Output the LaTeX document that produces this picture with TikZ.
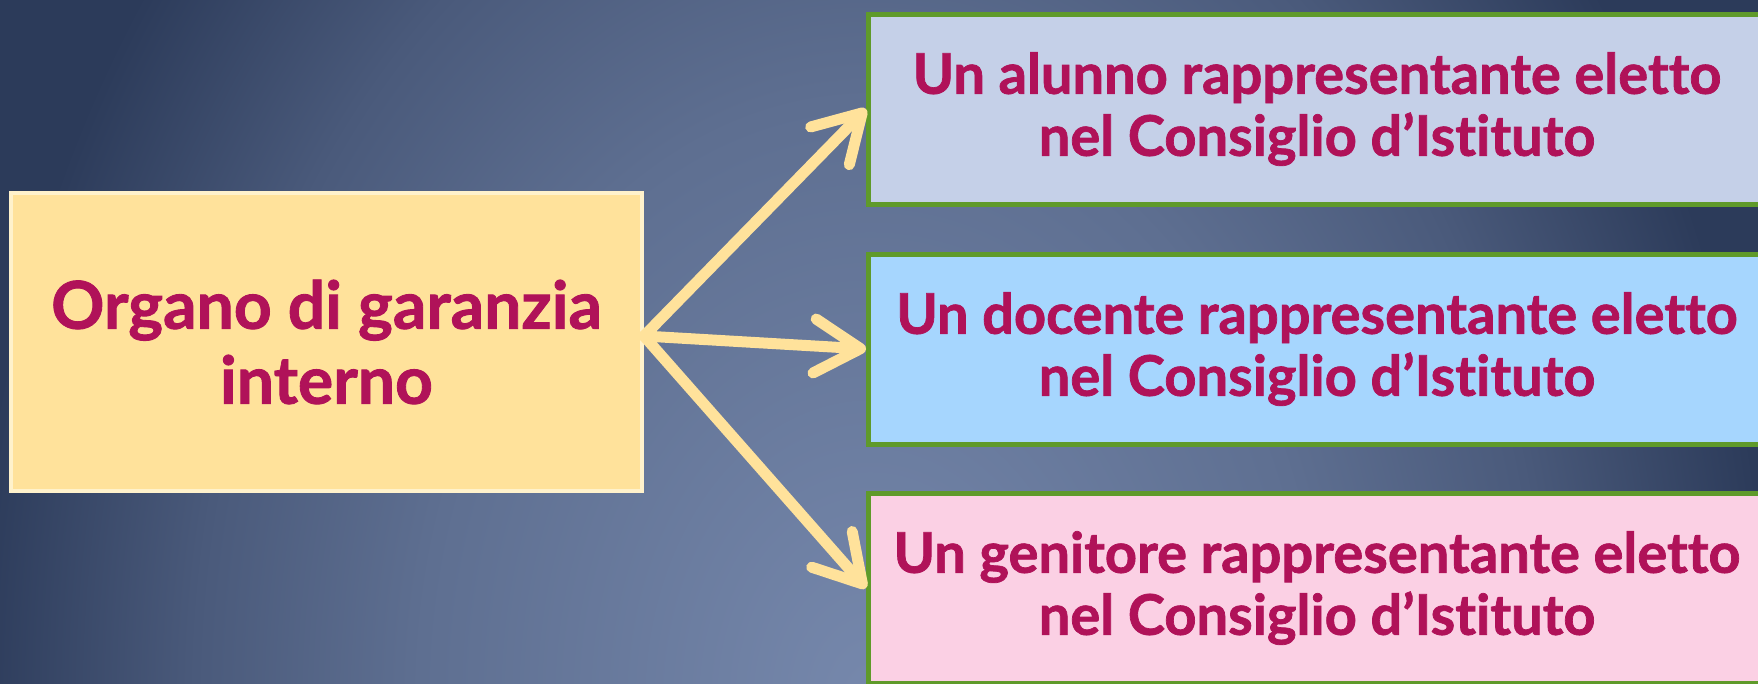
\documentclass[tikz,border=0pt]{standalone}
\usepackage{fontspec}
\setmainfont{Lato}[Ligatures=NoCommon, BoldFeatures={FakeBold=1.3}]
\usetikzlibrary{arrows.meta}
\definecolor{bgL}{RGB}{118,136,172}
\definecolor{bgMa}{RGB}{94,111,145}
\definecolor{bgMb}{RGB}{74,90,123}
\definecolor{bgD}{RGB}{44,59,90}
\definecolor{txt}{RGB}{176,18,89}
\definecolor{cream}{RGB}{255,226,155}
\definecolor{creamedge}{RGB}{255,242,204}
\definecolor{grn}{RGB}{95,154,42}
\definecolor{fillA}{RGB}{197,208,232}
\definecolor{fillB}{RGB}{166,214,254}
\definecolor{fillC}{RGB}{251,208,228}
\pgfdeclareradialshading{bgshade}{\pgfpoint{0bp}{0bp}}{color(0bp)=(bgL); color(12.5bp)=(bgMa); color(18.75bp)=(bgMb); color(25bp)=(bgD); color(50bp)=(bgD)}
\tikzset{
  mainbox/.style={draw=creamedge, line width=4pt, fill=cream, minimum width=631pt, minimum height=298pt, inner sep=0pt, align=center, text=txt, font=\bfseries\fontsize{66}{75}\selectfont},
  rbox/.style={draw=grn, line width=5pt, minimum width=897pt, minimum height=190pt, inner sep=0pt, align=center, text=txt, font=\bfseries\fontsize{56}{62}\selectfont},
  arr/.style={draw=cream, line width=11pt, line cap=round, -{Straight Barb[length=46pt,width=54pt,round]}}
}
\begin{document}
\begin{tikzpicture}[x=1pt,y=-1pt]
\useasboundingbox (0,0) rectangle (1758,683);
\clip (0,0) rectangle (1758,683);
\fill[bgD] (0,0) rectangle (1758,683);
\path[shading=bgshade] (870,700) ellipse [x radius=900pt, y radius=1200pt];
\node[mainbox] (L) at (326.5,342) {Organo di garanzia\\interno};
\node[rbox, fill=fillA] (A) at (1317,109) {Un alunno rappresentante eletto\\nel Consiglio d’Istituto};
\node[rbox, fill=fillB] (B) at (1317,349) {Un docente rappresentante eletto\\nel Consiglio d’Istituto};
\node[rbox, fill=fillC] (C) at (1317,588) {Un genitore rappresentante eletto\\nel Consiglio d’Istituto};
\coordinate (src) at ([yshift=6pt]L.east);
\draw[arr] (src) -- (A.west);
\draw[arr] (src) -- (B.west);
\draw[arr] (src) -- (C.west);
\end{tikzpicture}
\end{document}
